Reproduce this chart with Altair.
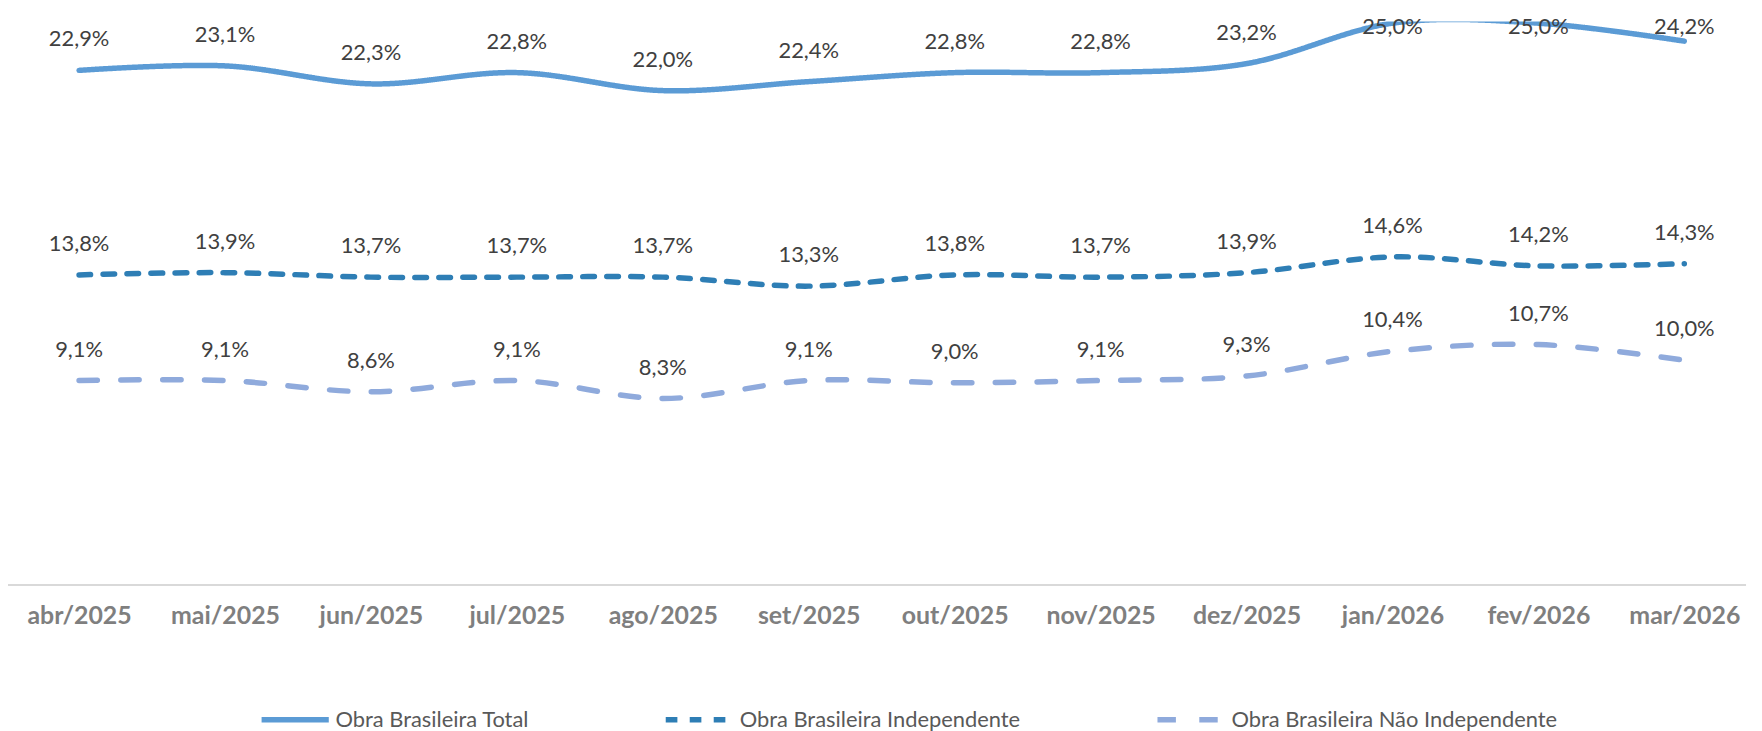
import altair as alt
import pandas as pd

months = ["abr/2025", "mai/2025", "jun/2025", "jul/2025", "ago/2025", "set/2025",
          "out/2025", "nov/2025", "dez/2025", "jan/2026", "fev/2026", "mar/2026"]
total = [22.9, 23.1, 22.3, 22.8, 22.0, 22.4, 22.8, 22.8, 23.2, 25.0, 25.0, 24.2]
indep = [13.8, 13.9, 13.7, 13.7, 13.7, 13.3, 13.8, 13.7, 13.9, 14.6, 14.2, 14.3]
nao_indep = [9.1, 9.1, 8.6, 9.1, 8.3, 9.1, 9.0, 9.1, 9.3, 10.4, 10.7, 10.0]

series = ["Obra Brasileira Total", "Obra Brasileira Independente",
          "Obra Brasileira Não Independente"]
colors = ["#5B9BD5", "#2E7EB5", "#8FAADC"]
dashes = [[1, 0], [11.7, 12.4], [18.5, 23.5]]

rows = []
for s, vals in zip(series, [total, indep, nao_indep]):
    for i, (m, v) in enumerate(zip(months, vals)):
        rows.append({"mes": m, "i": i, "serie": s, "valor": v})
df = pd.DataFrame(rows)

W, H = 1746, 566
YMAX = 25.07

xenc = alt.X("mes:N", sort=months,
             scale=alt.Scale(type="point", range=[71.4, 1684], padding=0),
             axis=alt.Axis(title=None, domain=False, ticks=False, tickSize=0, grid=False,
                           labelFont="Lato", labelFontWeight="bold", labelFontSize=25,
                           labelColor="#7F7F7F", labelBaseline="middle", labelPadding=31,
                           labelAngle=0))
yscale = alt.Scale(domain=[0, YMAX], nice=False, zero=True)

legend = alt.Legend(title=None, orient="none", legendX=252, legendY=664.5,
                    direction="horizontal", symbolType="stroke", symbolSize=4556,
                    symbolStrokeWidth=5.5, labelFont="Lato", labelFontSize=22,
                    labelColor="#595959", labelOffset=4, columnPadding=125, padding=0,
                    labelLimit=400)

color = alt.Color("serie:N", sort=series, scale=alt.Scale(domain=series, range=colors),
                  legend=legend)
dash = alt.StrokeDash("serie:N", sort=series, scale=alt.Scale(domain=series, range=dashes),
                      legend=legend)

baseline = alt.Chart(pd.DataFrame({"k": [0]})).mark_rule(
    color="#D9D9D9", strokeWidth=2
).encode(x=alt.value(0), x2=alt.value(W), y=alt.value(H))

lines = alt.Chart(df).mark_line(
    interpolate="cardinal", strokeWidth=5.5, strokeCap="round", strokeJoin="round", clip=True
).encode(
    x=xenc,
    y=alt.Y("valor:Q", scale=yscale, axis=None),
    color=color,
    strokeDash=dash,
    order=alt.Order("i:Q"),
)

labels = alt.Chart(df).transform_calculate(
    txt="replace(format(datum.valor, '.1f'), '.', ',') + '%'",
    ly="min(datum.valor + 1.063, 24.52)",
).mark_text(
    font="Lato", fontSize=22, color="#404040", baseline="alphabetic", align="center"
).encode(
    x=xenc,
    y=alt.Y("ly:Q", scale=yscale, axis=None),
    text="txt:N",
)

chart = alt.layer(baseline, lines, labels).properties(
    width=W, height=H,
    padding={"left": 0, "top": 12, "right": 8, "bottom": 152},
    autosize=alt.AutoSizeParams(type="none"),
    background="white",
).configure_view(stroke=None)

chart.save("out.html", embed_options={"renderer": "svg", "actions": False})
